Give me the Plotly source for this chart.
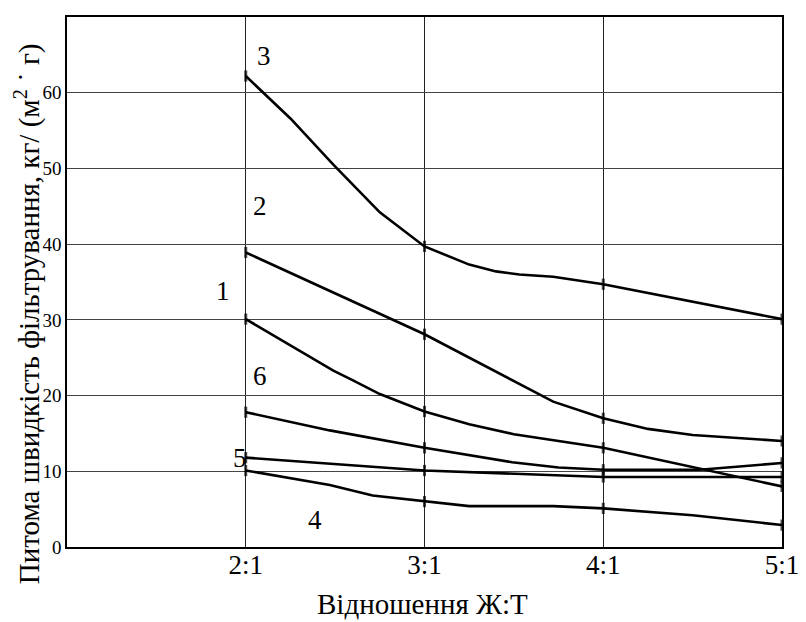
import plotly.graph_objects as go

# Data
tick_vals = [2, 3, 4, 5]
tick_text = ["2:1", "3:1", "4:1", "5:1"]
y_ticks = [0, 10, 20, 30, 40, 50, 60, 70]

x1 = [2, 2.49, 2.6, 2.75, 3, 3.25, 3.5, 4, 5]
y1 = [30.1, 23.3, 22.0, 20.2, 17.9, 16.2, 14.9, 13.1, 8.0]

x2 = [2, 3, 3.72, 4, 4.25, 4.5, 5]
y2 = [38.9, 28.1, 19.2, 17.0, 15.6, 14.8, 14.0]

x3 = [2, 2.25, 2.49, 2.75, 3, 3.25, 3.4, 3.53, 3.72, 4, 5]
y3 = [62.2, 56.6, 50.5, 44.2, 39.7, 37.3, 36.4, 36.0, 35.7, 34.7, 30.1]

x4 = [2, 2.47, 2.71, 3, 3.25, 3.72, 4, 4.5, 5]
y4 = [10.1, 8.2, 6.8, 6.0, 5.4, 5.4, 5.1, 4.2, 2.9]

x5 = [2, 3, 4, 5]
y5 = [11.8, 10.1, 9.25, 9.25]

x6 = [2, 2.47, 3, 3.25, 3.49, 3.75, 4, 4.54, 5]
y6 = [17.8, 15.4, 13.1, 12.1, 11.2, 10.5, 10.2, 10.2, 11.1]

curve_names = ["1", "2", "3", "4", "5", "6"]
label_x = [1.87, 2.08, 2.1, 2.39, 1.97, 2.08]
label_y = [33.8, 45.0, 64.8, 3.6, 11.7, 22.6]

FONT = "Liberation Serif"

fig = go.Figure()
series = [(x1, y1), (x2, y2), (x3, y3), (x4, y4), (x5, y5), (x6, y6)]
for name, (xs, ys) in zip(curve_names, series):
    sizes = [8 if float(v).is_integer() else 0 for v in xs]
    fig.add_trace(go.Scatter(
        x=xs, y=ys, mode="lines+markers", name=name,
        line=dict(color="black", width=2.6),
        marker=dict(symbol="line-ns", size=sizes, color="black",
                    line=dict(color="black", width=3)),
        showlegend=False, hoverinfo="skip",
    ))

for name, lx, ly in zip(curve_names, label_x, label_y):
    fig.add_annotation(x=lx, y=ly, text=name, showarrow=False,
                       font=dict(family=FONT, size=27, color="black"))

fig.add_annotation(xref="paper", yref="paper", x=-0.056, y=0.441,
                   text="Питома швидкість фільтрування, кг/ (м<sup>2</sup> ˙ г)",
                   textangle=-90, showarrow=False, xanchor="center", yanchor="middle",
                   font=dict(family=FONT, size=29, color="black"))
fig.add_annotation(xref="paper", yref="paper", x=0.497, y=-0.107,
                   text="Відношення Ж:Т", showarrow=False,
                   xanchor="center", yanchor="middle",
                   font=dict(family=FONT, size=29, color="black"))

# page body has an 8px margin, so the figure is shifted by 8px
fig.update_layout(
    width=798, height=614,
    margin=dict(l=59, r=23, t=7, b=75),
    paper_bgcolor="white", plot_bgcolor="white",
    font=dict(family=FONT, color="black"),
)
fig.update_xaxes(range=[1, 5], tickvals=tick_vals, ticktext=tick_text,
                 showgrid=True, gridcolor="#222", gridwidth=1,
                 showline=True, linecolor="black", linewidth=1.5, mirror=True,
                 ticks="", zeroline=False, ticklabelstandoff=-7,
                 tickfont=dict(family=FONT, size=27, color="black"))
fig.update_yaxes(range=[0, 70], tickvals=y_ticks,
                 showgrid=True, gridcolor="#444", gridwidth=1,
                 showline=True, linecolor="black", linewidth=1.5, mirror=True,
                 ticks="", zeroline=False, ticklabelstandoff=0,
                 tickfont=dict(family=FONT, size=19, color="black"))

fig.write_html("out.html")
